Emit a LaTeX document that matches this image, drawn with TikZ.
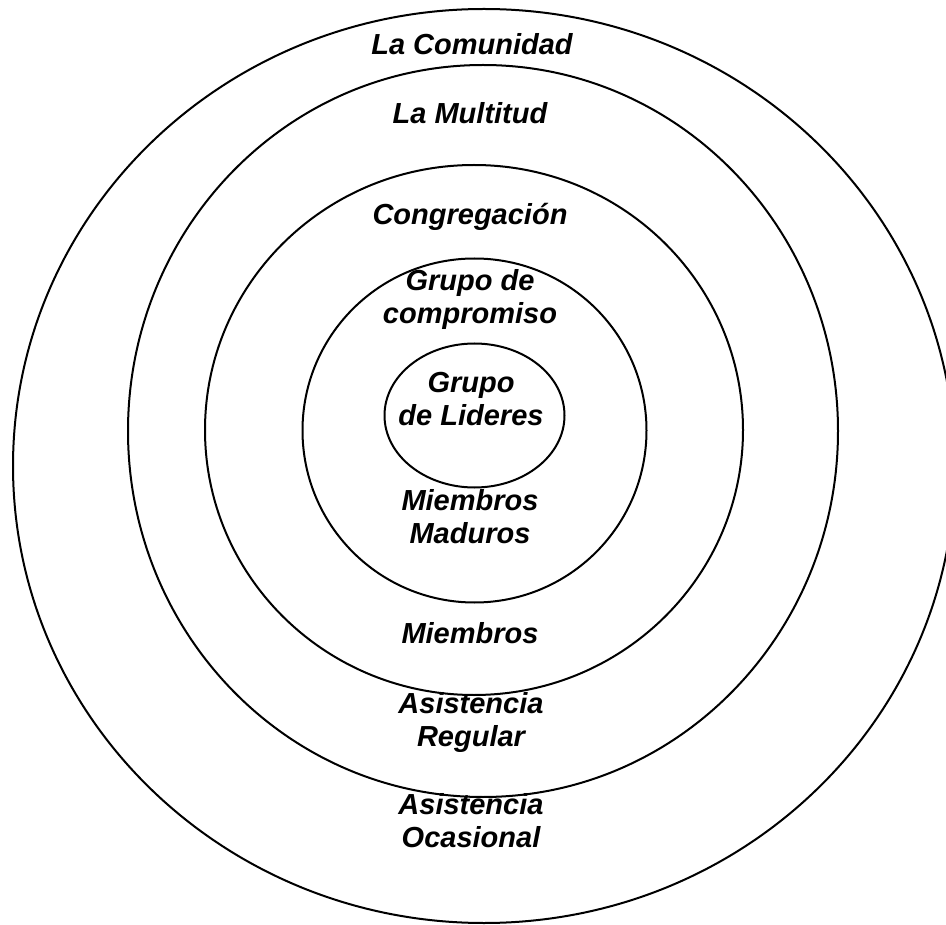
\documentclass[tikz,border=0pt]{standalone}
\usepackage{fontspec}
\setmainfont{Liberation Sans}
\tikzset{
  ring/.style={line width=2pt},
  lbl/.style={font=\fontsize{29}{33}\selectfont\bfseries\itshape, align=center, anchor=base, inner sep=0pt}
}
\begin{document}
\begin{tikzpicture}[x=1pt,y=-1pt]
    \useasboundingbox (0,0) rectangle (946,925); % frame
    \draw[ring] (484,466) ellipse [x radius=471, y radius=457]; % comunidad
    \draw[ring] (483,431) ellipse [x radius=355, y radius=366]; % multitud
    \draw[ring] (474,430) ellipse [x radius=269, y radius=265]; % congregacion
    \draw[ring] (474.5,430.5) ellipse [x radius=172, y radius=172]; % compromiso
    \draw[ring] (474.5,415.5) ellipse [x radius=90, y radius=72]; % lideres
    \node[lbl] (comunidad) at (472,55) {La Comunidad};
    \node[lbl] (multitud) at (470,124) {La Multitud};
    \node[lbl] (congregacion) at (470,225) {Congregación};
    \node[lbl] (compromiso) at (470,324) {Grupo de\\compromiso}; % base = last line
    \node[lbl] (lideres) at (471,426) {Grupo\\de Lideres};
    \node[lbl] (maduros) at (470,543) {Miembros\\Maduros};
    \node[lbl] (miembros) at (470,643) {Miembros};
    \node[lbl] (regular) at (471,746) {Asistencia\\Regular};
    \node[lbl] (ocasional) at (471,847) {Asistencia\\Ocasional};
\end{tikzpicture}
\end{document}
